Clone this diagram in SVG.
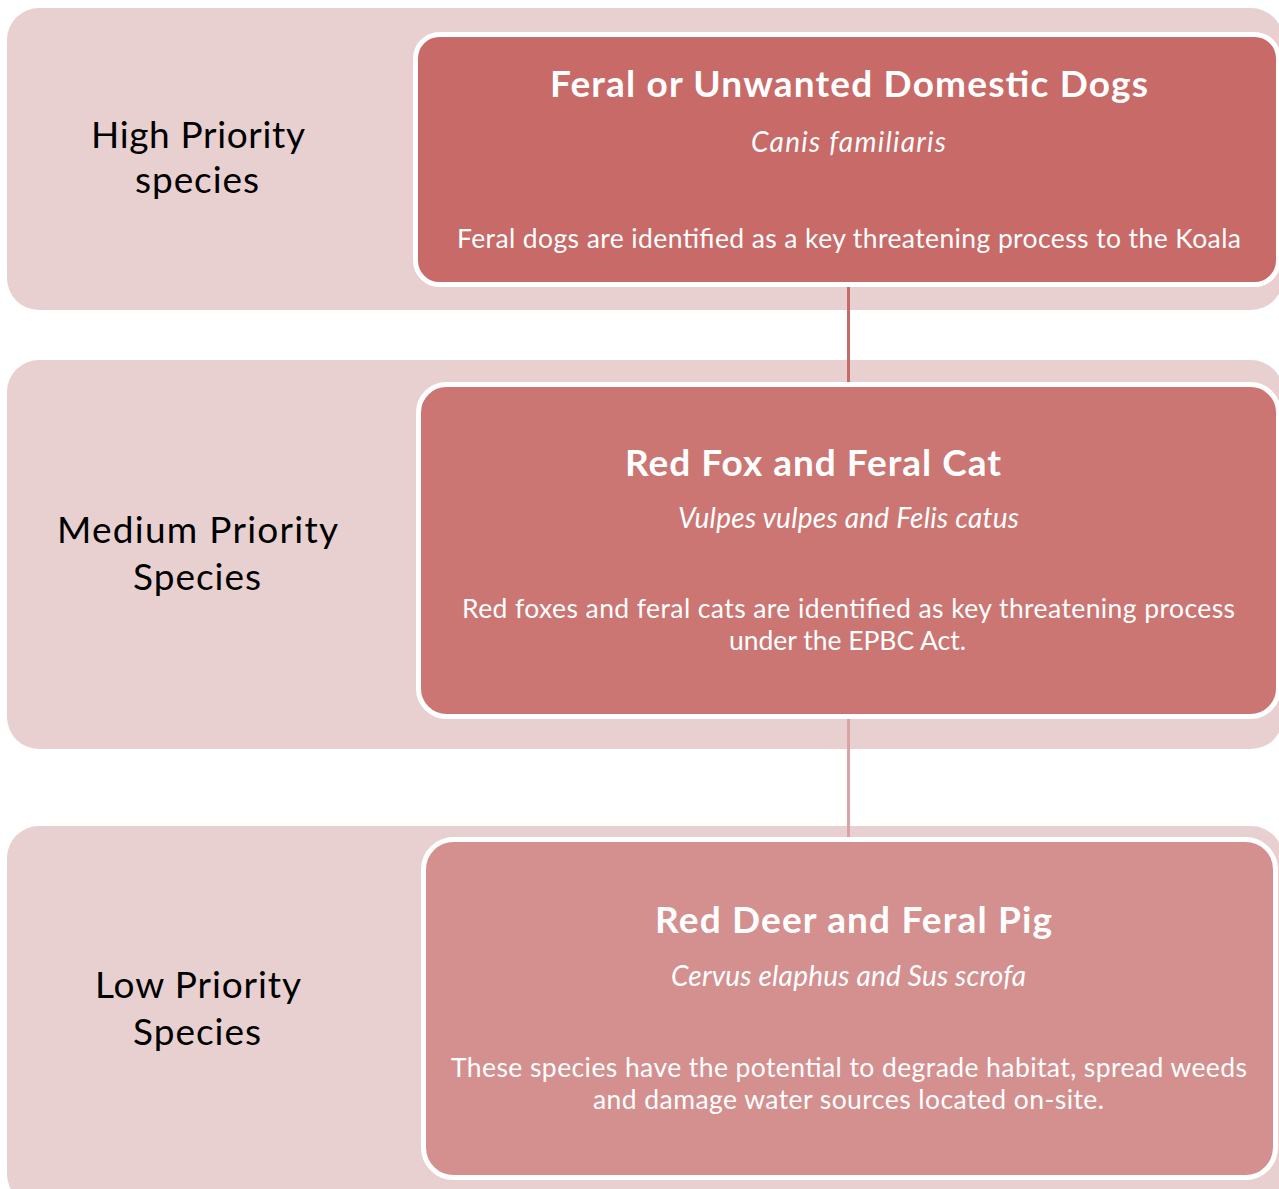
<svg xmlns="http://www.w3.org/2000/svg" width="1279" height="1189" viewBox="0 0 1279 1189">
<style>
.band{fill:#E8D0D1}
.box{stroke:#FFFFFF;stroke-width:5}
.lbl{font-family:Lato,"Liberation Sans",sans-serif;font-size:37px;fill:#000000;text-anchor:middle}
.ttl{font-family:Lato,"Liberation Sans",sans-serif;font-weight:bold;font-size:37px;fill:#FFFFFF;text-anchor:middle}
.sci{font-family:Lato,"Liberation Sans",sans-serif;font-style:italic;font-size:28px;fill:#FFFFFF;text-anchor:middle}
.txt{font-family:Lato,"Liberation Sans",sans-serif;font-size:26.5px;fill:#FFFFFF;text-anchor:middle}
.conn{stroke-width:3;fill:none}
</style>
<rect width="1279" height="1189" fill="#FFFFFF"/>
<g id="band-high"><rect class="band" x="7" y="8" width="1276" height="302" rx="32"/>
<text class="lbl" x="198" y="148" textLength="214">High Priority</text><text class="lbl" x="197" y="193" textLength="124">species</text></g>
<g id="band-medium"><rect class="band" x="7" y="360" width="1276" height="389" rx="32"/>
<text class="lbl" x="197.5" y="543" textLength="281">Medium Priority</text><text class="lbl" x="197" y="590" textLength="128">Species</text></g>
<g id="band-low"><rect class="band" x="7" y="826" width="1276" height="380" rx="32"/>
<text class="lbl" x="198" y="998" textLength="206">Low Priority</text><text class="lbl" x="197" y="1045" textLength="128">Species</text></g>
<g id="connectors">
<line class="conn" x1="848.5" y1="286" x2="848.5" y2="383" stroke="#C86A68"/>
<line class="conn" x1="848.5" y1="718" x2="848.5" y2="838" stroke="#D9A3A3"/>
</g>
<g id="node-dogs"><rect class="box" x="415.5" y="34.5" width="863" height="250" rx="24" fill="#C86A68"/>
<text class="ttl" x="849" y="97" textLength="598">Feral or Unwanted Domestic Dogs</text>
<text class="sci" x="848.5" y="152" textLength="195">Canis familiaris</text>
<text class="txt" x="849" y="248" textLength="784">Feral dogs are identified as a key threatening process to the Koala</text></g>
<g id="node-fox-cat"><rect class="box" x="418.5" y="384.5" width="860" height="332" rx="28" fill="#CB7673"/>
<text class="ttl" x="813" y="476" textLength="376">Red Fox and Feral Cat</text>
<text class="sci" x="848.5" y="528" textLength="341">Vulpes vulpes and Felis catus</text>
<text class="txt" x="848.5" y="618" textLength="773">Red foxes and feral cats are identified as key threatening process</text>
<text class="txt" x="847.5" y="650" textLength="237">under the EPBC Act.</text></g>
<g id="node-deer-pig"><rect class="box" x="423.5" y="839.5" width="852" height="338" rx="30" fill="#D4908F"/>
<text class="ttl" x="853.5" y="933" textLength="397">Red Deer and Feral Pig</text>
<text class="sci" x="848.5" y="986" textLength="355">Cervus elaphus and Sus scrofa</text>
<text class="txt" x="849" y="1077" textLength="796">These species have the potential to degrade habitat, spread weeds</text>
<text class="txt" x="848.5" y="1109" textLength="511">and damage water sources located on-site.</text></g>
</svg>
